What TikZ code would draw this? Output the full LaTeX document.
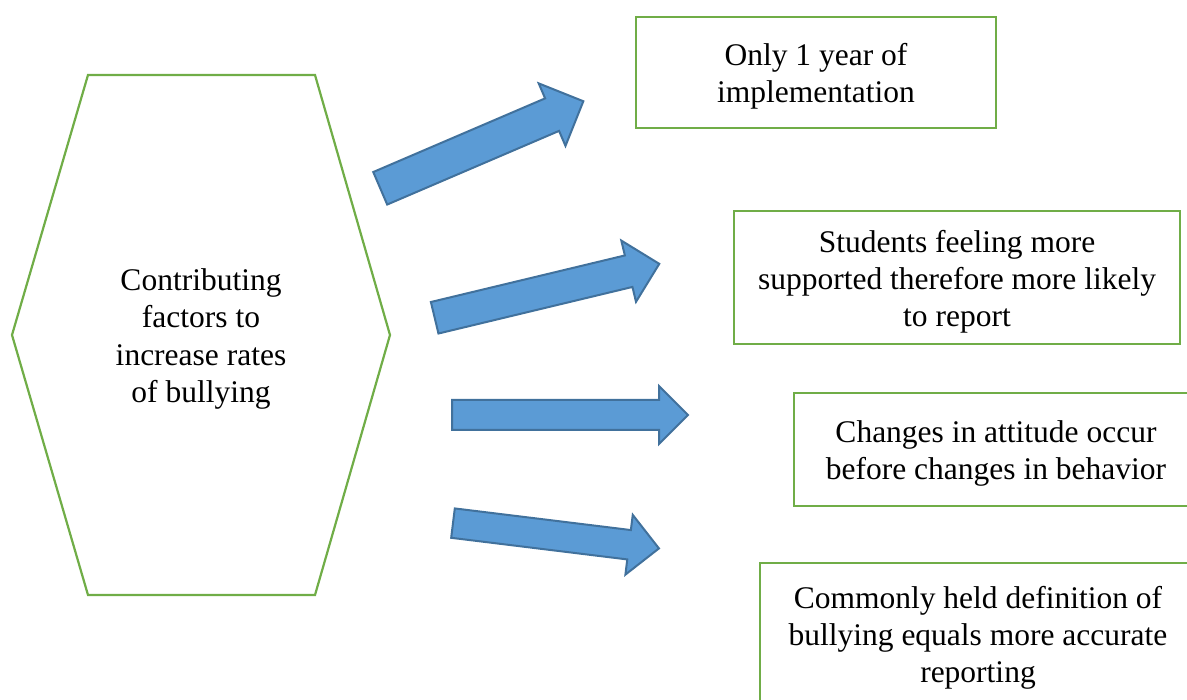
\documentclass[tikz,border=0pt]{standalone}
\usepackage{fontspec}
\setmainfont{Liberation Serif}
\usetikzlibrary{shapes.arrows}
\definecolor{boxgreen}{RGB}{112,173,71}
\definecolor{arrowfill}{RGB}{91,155,213}
\definecolor{arrowline}{RGB}{65,113,156}
\newcommand{\boxtext}[2]{\parbox{#1}{\centering\vspace*{8pt}#2}}

\begin{document}
\begin{tikzpicture}[x=1pt,y=-1pt,
  textfont/.style={font=\fontsize{31.5}{37.2}\selectfont, align=center},
  factorbox/.style={draw=boxgreen, line width=2.2pt, inner sep=0pt, textfont},
  blockarrow/.style={single arrow, draw=arrowline, fill=arrowfill, line width=2pt,
    inner xsep=0pt, anchor=tail, single arrow head extend=#1}]
\clip (0,0) rectangle (1187,700);

% hexagon on the left
\draw [boxgreen, line width=2.2pt] (88,75) -- (315,75) -- (390,335) -- (315,595) -- (88,595) -- (12,335) -- cycle;
\node [textfont] (factors) at (201,339) {Contributing\\factors to\\increase rates\\of bullying};

% boxes on the right
\node [factorbox, minimum width=360pt, minimum height=111pt] (year) at (816,72.5) {\boxtext{340pt}{Only 1 year of\\implementation}};
\node [factorbox, minimum width=446pt, minimum height=133pt] (support) at (957,277.5) {\boxtext{440pt}{Students feeling more\\supported therefore more likely\\to report}};
\node [factorbox, minimum width=404pt, minimum height=113pt] (attitude) at (996,449.5) {\boxtext{400pt}{Changes in attitude occur\\before changes in behavior}};
\node [factorbox, minimum width=436pt, minimum height=142pt] (definition) at (978,634) {\boxtext{430pt}{Commonly held definition of\\bullying equals more accurate\\reporting}};

% block arrows
\node [blockarrow=16.3pt, inner ysep=16.7pt, rotate=23.2, minimum height=221pt] (toyear) at (379.3,188.7) {};
\node [blockarrow=15.3pt, inner ysep=15.2pt, rotate=13.5, minimum height=231pt] (tosupport) at (433.7,318) {};
\node [blockarrow=14pt, inner ysep=14pt, minimum height=236pt] (toattitude) at (451,415) {};
\node [blockarrow=15.3pt, inner ysep=13.8pt, rotate=-7, minimum height=207.5pt] (todefinition) at (452,523) {};
\end{tikzpicture}
\end{document}
